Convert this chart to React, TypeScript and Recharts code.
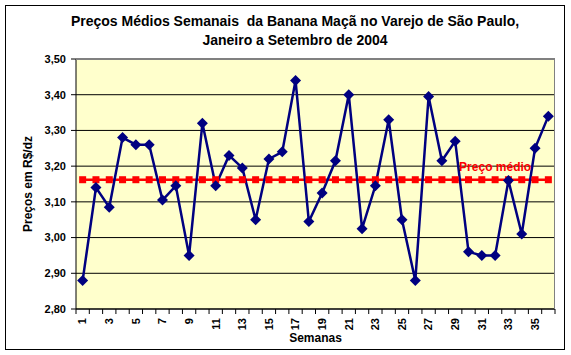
import { LineChart, Line, XAxis, YAxis, CartesianGrid, LabelList } from 'recharts';

const weeks = [
  1, 2, 3, 4, 5, 6, 7, 8, 9, 10, 11, 12, 13, 14, 15, 16, 17, 18,
  19, 20, 21, 22, 23, 24, 25, 26, 27, 28, 29, 30, 31, 32, 33, 34, 35, 36,
];
const prices = [
  2.88, 3.14, 3.085, 3.28, 3.26, 3.26, 3.105, 3.145, 2.95, 3.32, 3.145, 3.23,
  3.195, 3.05, 3.22, 3.24, 3.44, 3.045, 3.125, 3.215, 3.4, 3.025, 3.145, 3.33,
  3.05, 2.88, 3.395, 3.215, 3.27, 2.96, 2.95, 2.95, 3.16, 3.01, 3.25, 3.34,
];
const averagePrice = 3.162;
const yTicks = [2.8, 2.9, 3.0, 3.1, 3.2, 3.3, 3.4, 3.5];
const meanLabel = 'Preço médio';
const meanLabelWeek = 32;

const data = weeks.map((w, i) => ({ week: w, price: prices[i], mean: averagePrice }));

const W = 571;
const H = 355;
const PLOT_LEFT = 76;
const PLOT_RIGHT = 555;
const BAND = (PLOT_RIGHT - PLOT_LEFT) / weeks.length;
const FONT = '"Liberation Sans", Arial, sans-serif';

const Diamond = (props: any) => {
  const { cx, cy } = props;
  if (cx == null || cy == null) return null;
  const r = 5.5;
  return (
    <path
      key={`d-${props.index}`}
      d={`M${cx},${cy - r}L${cx + r},${cy}L${cx},${cy + r}L${cx - r},${cy}Z`}
      fill="#000080"
    />
  );
};

const Square = (props: any) => {
  const { cx, cy } = props;
  if (cx == null || cy == null) return null;
  return <rect key={`s-${props.index}`} x={cx - 3.5} y={cy - 3.5} width={7} height={7} fill="#FF0000" />;
};

const WeekTick = (props: any) => {
  const { x, y, payload, index } = props;
  const showLabel = payload.value % 2 === 1;
  return (
    <g>
      <line x1={x - BAND / 2} x2={x - BAND / 2} y1={y} y2={y + 5} stroke="#000" />
      {index === weeks.length - 1 && (
        <line x1={x + BAND / 2} x2={x + BAND / 2} y1={y} y2={y + 5} stroke="#000" />
      )}
      {showLabel && (
        <text
          x={x}
          y={y + 9}
          dy="0.35em"
          textAnchor="end"
          transform={`rotate(-90, ${x}, ${y + 9})`}
          fontFamily={FONT}
          fontWeight="bold"
          fontSize={11}
          fill="#000"
        >
          {payload.value}
        </text>
      )}
    </g>
  );
};

const MeanLabel = (props: any) => {
  const { x, y, index } = props;
  if (weeks[index] !== meanLabelWeek) return null;
  return (
    <text
      x={x}
      y={y - 13}
      textAnchor="middle"
      dominantBaseline="central"
      fontFamily={FONT}
      fontWeight="bold"
      fontSize={12}
      fill="#FF0000"
    >
      {meanLabel}
    </text>
  );
};

export default function App() {
  return (
    <div style={{ position: 'absolute', left: 0, top: 0, width: W, height: H, background: '#fff' }}>
      <div
        style={{
          position: 'absolute',
          left: 5,
          top: 5,
          width: 558,
          height: 343,
          border: '1px solid #000',
        }}
      />
      <div
        style={{
          position: 'absolute',
          left: 0,
          top: 12,
          width: 590,
          textAlign: 'center',
          fontFamily: FONT,
          fontWeight: 'bold',
          fontSize: 14,
          lineHeight: '19px',
          color: '#000',
        }}
      >
        Preços Médios Semanais&nbsp; da Banana Maçã no Varejo de São Paulo,
        <br />
        Janeiro a Setembro de 2004
      </div>
      <div style={{ position: 'absolute', left: 0, top: 0 }}>
        <LineChart
          width={W}
          height={H}
          data={data}
          margin={{ top: 59, right: W - PLOT_RIGHT, bottom: 10, left: 0 }}
        >
          <CartesianGrid
            vertical={false}
            stroke="#000"
            fill="#FFFFCC"
            horizontalValues={yTicks}
          />
          <XAxis
            dataKey="week"
            interval={0}
            padding={{ left: BAND / 2, right: BAND / 2 }}
            tickLine={false}
            tickSize={0}
            tickMargin={0}
            height={36}
            tick={<WeekTick />}
            axisLine={{ stroke: '#000' }}
            label={{
              value: 'Semanas',
              position: 'insideBottom',
              offset: 3,
              style: { fontFamily: FONT, fontWeight: 'bold', fontSize: 12, fill: '#000' },
            }}
          />
          <YAxis
            width={PLOT_LEFT}
            domain={[2.8, 3.5]}
            ticks={yTicks}
            interval={0}
            tickSize={5}
            tickMargin={5}
            axisLine={{ stroke: '#000' }}
            tickLine={{ stroke: '#000' }}
            tickFormatter={(v: number) => v.toFixed(2).replace('.', ',')}
            tick={{ fontFamily: FONT, fontWeight: 'bold', fontSize: 11, fill: '#000' }}
            label={{
              value: 'Preços em R$/dz',
              angle: -90,
              position: 'insideLeft',
              offset: 28,
              style: { textAnchor: 'middle', fontFamily: FONT, fontWeight: 'bold', fontSize: 12, fill: '#000' },
            }}
          />
          <Line
            type="linear"
            dataKey="mean"
            stroke="#FF0000"
            strokeWidth={2.5}
            dot={<Square />}
            activeDot={false}
            isAnimationActive={false}
          >
            <LabelList dataKey="mean" content={<MeanLabel />} />
          </Line>
          <Line
            type="linear"
            dataKey="price"
            stroke="#000080"
            strokeWidth={2.5}
            dot={<Diamond />}
            activeDot={false}
            isAnimationActive={false}
          />
        </LineChart>
      </div>
      <div
        style={{
          position: 'absolute',
          left: PLOT_LEFT,
          top: 59,
          width: PLOT_RIGHT - PLOT_LEFT,
          height: 250,
          borderTop: '1px solid #808080',
          borderRight: '1px solid #808080',
          boxSizing: 'border-box',
          pointerEvents: 'none',
        }}
      />
    </div>
  );
}
